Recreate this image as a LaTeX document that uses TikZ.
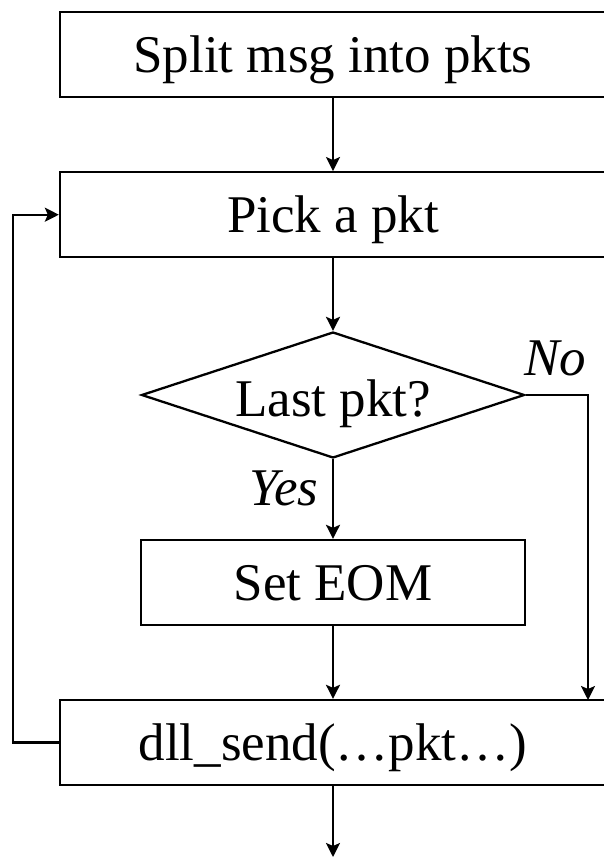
\documentclass[tikz,border=0pt]{standalone}
\usepackage{fontspec}
\setmainfont{Liberation Serif}
\usetikzlibrary{shapes.geometric,arrows.meta}
\begin{document}
\begin{tikzpicture}[x=1pt,y=-1pt,
  every node/.style={font=\fontsize{53}{60}\selectfont},
  box/.style={draw,line width=2.3pt,rectangle,inner sep=0pt,minimum height=85pt,
     text height=40pt,text depth=4pt},
  wide/.style={box,minimum width=546pt},
  decide/.style={draw,line width=2.3pt,diamond,inner sep=0pt,shape aspect=3.04,
     minimum width=383pt,minimum height=126pt,text height=44pt,text depth=2pt},
  conn/.style={line width=2.3pt,-{Stealth[length=14pt,width=14pt,inset=3pt]}}]
\useasboundingbox (0,0) rectangle (603,858);
\node[wide] (split) at (333,54.5) {Split msg into pkts};
\node[wide] (pick) at (333,214.7) {Pick a pkt};
\node[decide] (dec) at (333,395) {Last pkt?};
\node[box,minimum width=384pt] (eom) at (333,582.5) {Set EOM};
\node[wide] (dll) at (333,742.5) {dll\_send(\ldots pkt\ldots)};
\coordinate (out) at (333,857);
\coordinate (noin) at (588,700);
\coordinate (loopx) at (12.7,742.5);
\node[anchor=base east,font=\fontsize{53}{60}\selectfont\itshape] (yes) at (322,505) {Yes};
\node[anchor=base,font=\fontsize{53}{60}\selectfont\itshape] (no) at (555,375) {No};
\draw[conn] (split) -- (pick);
\draw[conn] (pick) -- (dec);
\draw[conn] (dec) -- (eom);
\draw[conn] (eom) -- (dll);
\draw[conn] (dll) -- (out);
\draw[conn] (dec.east) -| (noin);
\draw[conn] (dll.west) -- (loopx) |- (pick.west);
\end{tikzpicture}
\end{document}
